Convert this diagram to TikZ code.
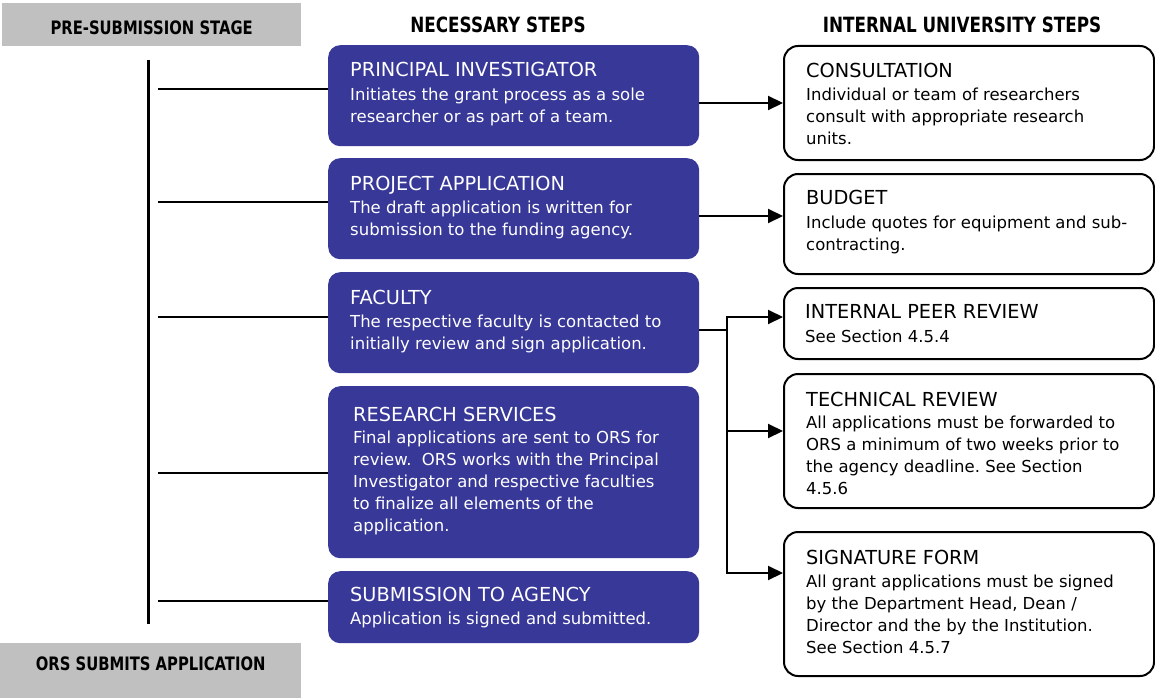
\documentclass[tikz,border=0pt]{standalone}
\usepackage{fontspec}
\setmainfont{DejaVu Sans}
\newfontfamily\condfont{DejaVu Sans}[UprightFont=* Bold, FakeStretch=0.8]
\usetikzlibrary{arrows.meta}
\definecolor{stepblue}{RGB}{56,56,152}
\definecolor{stagegray}{RGB}{192,192,192}
\newcommand{\stephead}{\fontsize{19.3}{23}\selectfont}
\newcommand{\stepbody}{\fontsize{16.5}{22}\selectfont}
\newcommand{\colhead}{\condfont\fontsize{21}{24}\selectfont}
\newcommand{\stagehead}{\condfont\fontsize{18.5}{22}\selectfont}
\frenchspacing
\begin{document}
\begin{tikzpicture}[x=1pt,y=-1pt,
    stagebox/.style={fill=stagegray,anchor=north west,inner sep=0pt,font=\stagehead},
    colname/.style={anchor=base,inner sep=0pt,font=\colhead},
    stepbox/.style={fill=stepblue,rounded corners=12pt,anchor=north west,inner sep=0pt,minimum width=371pt},
    unibox/.style={draw,line width=2pt,rounded corners=14pt,anchor=north west,inner sep=0pt,minimum width=370pt},
    hd/.style={anchor=base west,inner sep=0pt,font=\stephead},
    bd/.style={anchor=base west,inner sep=0pt,align=left,font=\stepbody},
    tick/.style={line width=1.6pt},
    link/.style={line width=2pt},
    arr/.style={line width=2pt,-{Triangle[length=15pt,width=14pt]}}]
    \useasboundingbox (0,0) rectangle (1155,698);
    % stages and column names
    \node[stagebox,minimum width=299pt,minimum height=43pt,text height=19pt,text depth=0pt] (pre) at (2,3) {PRE-SUBMISSION STAGE};
    \node[stagebox,minimum width=301pt,minimum height=55pt,text height=13pt,text depth=14pt] (ors) at (0,643) {ORS SUBMITS APPLICATION};
    \node[colname] (nec) at (498,33) {NECESSARY STEPS};
    \node[colname] (uni) at (962,33) {INTERNAL UNIVERSITY STEPS};
    % necessary steps (body nodes sit on the baseline of their last line)
    \node[stepbox,minimum height=101pt] (pi) at (328,45) {};
    \node[hd,white] (pi-t) at ([xshift=22pt,yshift=-32pt]pi.north west) {PRINCIPAL INVESTIGATOR};
    \node[bd,white] (pi-d) at ([xshift=22pt,yshift=-77pt]pi.north west) {Initiates the grant process as a sole\\researcher or as part of a team.};
    \node[stepbox,minimum height=101pt] (pa) at (328,158) {};
    \node[hd,white] (pa-t) at ([xshift=22pt,yshift=-32pt]pa.north west) {PROJECT APPLICATION};
    \node[bd,white] (pa-d) at ([xshift=22pt,yshift=-77pt]pa.north west) {The draft application is written for\\submission to the funding agency.};
    \node[stepbox,minimum height=101pt] (fac) at (328,272) {};
    \node[hd,white] (fac-t) at ([xshift=22pt,yshift=-32pt]fac.north west) {FACULTY};
    \node[bd,white] (fac-d) at ([xshift=22pt,yshift=-77pt]fac.north west) {The respective faculty is contacted to\\initially review and sign application.};
    \node[stepbox,minimum height=172pt] (rs) at (328,386) {};
    \node[hd,white] (rs-t) at ([xshift=25pt,yshift=-35pt]rs.north west) {RESEARCH SERVICES};
    \node[bd,white] (rs-d) at ([xshift=25pt,yshift=-145pt]rs.north west) {Final applications are sent to ORS for\\review.\ \ ORS works with the Principal\\Investigator and respective faculties\\to finalize all elements of the\\application.};
    \node[stepbox,minimum height=72pt] (sub) at (328,571) {};
    \node[hd,white] (sub-t) at ([xshift=22pt,yshift=-30pt]sub.north west) {SUBMISSION TO AGENCY};
    \node[bd,white] (sub-d) at ([xshift=22pt,yshift=-53pt]sub.north west) {Application is signed and submitted.};
    % internal university steps
    \node[unibox,minimum height=114pt] (cons) at (783,45) {};
    \node[hd] (cons-t) at ([xshift=23pt,yshift=-33pt]cons.north west) {CONSULTATION};
    \node[bd] (cons-d) at ([xshift=23pt,yshift=-99pt]cons.north west) {Individual or team of researchers\\consult with appropriate research\\units.};
    \node[unibox,minimum height=100pt] (bud) at (783,173) {};
    \node[hd] (bud-t) at ([xshift=23pt,yshift=-31pt]bud.north west) {BUDGET};
    \node[bd] (bud-d) at ([xshift=23pt,yshift=-77pt]bud.north west) {Include quotes for equipment and sub-\\contracting.};
    \node[unibox,minimum height=71pt] (ipr) at (783,287) {};
    \node[hd] (ipr-t) at ([xshift=22pt,yshift=-31pt]ipr.north west) {INTERNAL PEER REVIEW};
    \node[bd] (ipr-d) at ([xshift=22pt,yshift=-55pt]ipr.north west) {See Section 4.5.4};
    \node[unibox,minimum height=134pt] (tech) at (783,373) {};
    \node[hd] (tech-t) at ([xshift=23pt,yshift=-33pt]tech.north west) {TECHNICAL REVIEW};
    \node[bd] (tech-d) at ([xshift=23pt,yshift=-121pt]tech.north west) {All applications must be forwarded to\\ORS a minimum of two weeks prior to\\the agency deadline. See Section\\4.5.6};
    \node[unibox,minimum height=144pt] (sig) at (783,531) {};
    \node[hd] (sig-t) at ([xshift=23pt,yshift=-33pt]sig.north west) {SIGNATURE FORM};
    \node[bd] (sig-d) at ([xshift=23pt,yshift=-122pt]sig.north west) {All grant applications must be signed\\by the Department Head, Dean /\\Director and the by the Institution.\\See Section 4.5.7};
    % time line on the left
    \coordinate (spine-top) at (148,60);
    \coordinate (spine-bot) at (148,624);
    \draw[line width=3pt] (spine-top) -- (spine-bot);
    \foreach \n/\y in {pi/89,pa/202,fac/317,rs/473,sub/601}{
        \coordinate (tick-\n) at (158,\y);
        \draw[tick] (tick-\n) -- (tick-\n -| \n.west);
    }
    % arrows to the university steps
    \draw[arr] (pi.east |- cons.west) -- (cons.west);
    \coordinate (bud-in) at ([yshift=8pt]bud.west);
    \draw[arr] (bud-in -| pa.east) -- (bud-in);
    \coordinate (fork) at (727,330);
    \coordinate (ipr-in) at ([yshift=6.5pt]ipr.west);
    \coordinate (tech-in) at ([yshift=10pt]tech.west);
    \coordinate (sig-in) at ([yshift=31pt]sig.west);
    \draw[link] (fork -| fac.east) -- (fork);
    \draw[link,line cap=rect] (fork |- ipr-in) -- (fork |- sig-in);
    \foreach \n in {ipr,tech,sig}
        \draw[arr] (fork |- \n-in) -- (\n-in);
\end{tikzpicture}
\end{document}
